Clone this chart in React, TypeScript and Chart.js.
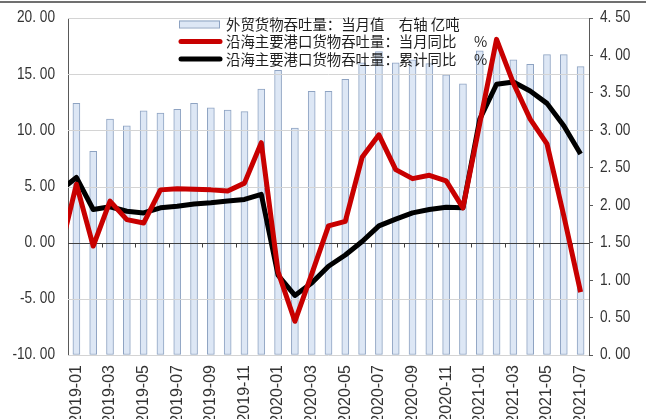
import { useEffect, useRef } from "react";
import { Chart, registerables } from "chart.js";

Chart.register(...registerables);

// Months on the category axis; the first one sits just left of the plot so the
// lines run in from the edge.
const months = [
  "2018-12",
  "2019-01", "2019-02", "2019-03", "2019-04", "2019-05", "2019-06",
  "2019-07", "2019-08", "2019-09", "2019-10", "2019-11", "2019-12",
  "2020-01", "2020-02", "2020-03", "2020-04", "2020-05", "2020-06",
  "2020-07", "2020-08", "2020-09", "2020-10", "2020-11", "2020-12",
  "2021-01", "2021-02", "2021-03", "2021-04", "2021-05", "2021-06",
  "2021-07",
];

// 外贸货物吞吐量:当月值 (亿吨, right axis)
const foreignTradeVolume = [
  null,
  3.36, 2.72, 3.15, 3.06, 3.26, 3.23,
  3.28, 3.36, 3.30, 3.27, 3.25, 3.55,
  3.80, 3.03, 3.52, 3.52, 3.68, 3.90,
  4.05, 3.90, 3.94, 3.89, 3.74, 3.62,
  4.06, 4.12, 3.94, 3.88, 4.01, 4.01,
  3.85,
];

// 沿海主要港口货物吞吐量:当月同比 (%, left axis)
const monthlyYoY = [
  -1.0,
  5.2, -0.3, 3.7, 2.05, 1.75, 4.7,
  4.8, 4.75, 4.7, 4.6, 5.3, 8.9,
  -2.6, -7.0, -2.8, 1.5, 1.9, 7.6,
  9.6, 6.5, 5.7, 6.0, 5.5, 3.1,
  10.6, 18.1, 14.2, 11.0, 8.8, 2.4,
  -4.4,
];

// 沿海主要港口货物吞吐量:累计同比 (%, left axis)
const cumulativeYoY = [
  4.6,
  5.8, 2.95, 3.2, 2.8, 2.65, 3.1,
  3.25, 3.45, 3.55, 3.7, 3.85, 4.3,
  -2.9, -4.7, -3.6, -2.1, -1.1, 0.1,
  1.5, 2.1, 2.65, 2.95, 3.15, 3.1,
  11.0, 14.1, 14.3, 13.5, 12.4, 10.4,
  7.9,
];

const leftTicks = [-10, -5, 0, 5, 10, 15, 20];
const rightTicks = [0, 0.5, 1, 1.5, 2, 2.5, 3, 3.5, 4, 4.5];

const legendLabels = [
  "外贸货物吞吐量：当月值　右轴 亿吨",
  "沿海主要港口货物吞吐量：当月同比　 %",
  "沿海主要港口货物吞吐量：累计同比　 %",
];

const BAR_FILL = "#dde7f5";
const BAR_EDGE = "#8ea3c2";
const RED = "#c80000";
const BLACK = "#000000";
const AXIS = "#595959";
const GRID = "#d4d4d4";
const TEXT = "#333333";

const fmt = (v: number) => v.toFixed(2).replace(".", ". ");

function squeezedText(
  ctx: CanvasRenderingContext2D,
  text: string,
  x: number,
  y: number,
  sx: number
) {
  ctx.save();
  ctx.translate(x, y);
  ctx.scale(sx, 1);
  ctx.fillText(text, 0, 0);
  ctx.restore();
}

// Horizontal grid, zero line and its month marks: painted over the bars,
// under the two lines.
const gridOverBars = {
  id: "gridOverBars",
  afterDatasetDraw(chart: Chart, args: any) {
    if (args.index !== 2) return;
    const { ctx, chartArea } = chart;
    const xs = chart.scales.x;
    const yl = chart.scales.y;
    ctx.save();
    ctx.lineWidth = 1;
    for (const v of leftTicks) {
      if (v === 0) continue;
      const py = Math.round(yl.getPixelForValue(v)) + 0.5;
      ctx.strokeStyle = GRID;
      ctx.beginPath();
      ctx.moveTo(chartArea.left, py);
      ctx.lineTo(chartArea.right, py);
      ctx.stroke();
    }
    const zy = Math.round(yl.getPixelForValue(0)) + 0.5;
    ctx.strokeStyle = "#404040";
    ctx.beginPath();
    ctx.moveTo(chartArea.left, zy);
    ctx.lineTo(chartArea.right, zy);
    ctx.stroke();
    for (let i = 2; i < months.length - 1; i += 2) {
      const bx =
        Math.round((xs.getPixelForValue(i) + xs.getPixelForValue(i + 1)) / 2) + 0.5;
      ctx.beginPath();
      ctx.moveTo(bx, zy);
      ctx.lineTo(bx, zy + 4);
      ctx.stroke();
    }
    ctx.restore();
  },
};

// Axis labels and the legend block.
const decorations = {
  id: "decorations",
  afterDraw(chart: Chart) {
    const { ctx, chartArea } = chart;
    const xs = chart.scales.x;
    const yl = chart.scales.y;
    const yr = chart.scales.y1;
    ctx.save();

    // frame line along the top edge
    ctx.fillStyle = "#707070";
    ctx.fillRect(0, 1, chart.width, 2);

    // y axis labels
    ctx.fillStyle = TEXT;
    ctx.font = "16px 'Liberation Sans', Arial, sans-serif";
    ctx.textBaseline = "middle";
    ctx.textAlign = "right";
    for (const v of leftTicks) {
      squeezedText(ctx, fmt(v), chartArea.left - 13, yl.getPixelForValue(v), 0.855);
    }
    ctx.textAlign = "left";
    for (const v of rightTicks) {
      squeezedText(ctx, fmt(v), chartArea.right + 11, yr.getPixelForValue(v), 0.855);
    }

    // month labels, rotated, every second month
    ctx.font = "16px 'Liberation Sans', Arial, sans-serif";
    ctx.textAlign = "right";
    ctx.textBaseline = "middle";
    for (let i = 1; i < months.length; i += 2) {
      ctx.save();
      ctx.translate(xs.getPixelForValue(i), chartArea.bottom + 10);
      ctx.rotate(-Math.PI / 2);
      ctx.fillText(months[i], 0, 0);
      ctx.restore();
    }

    // legend
    const lx0 = 179;
    const lx1 = 220;
    const rows = [24, 41.5, 59];
    ctx.fillStyle = BAR_FILL;
    ctx.fillRect(lx0, rows[0] - 3.5, lx1 - lx0, 7);
    ctx.lineWidth = 1;
    ctx.strokeStyle = BAR_EDGE;
    ctx.strokeRect(lx0 + 0.5, rows[0] - 3.5 + 0.5, lx1 - lx0 - 1, 7);
    ctx.lineCap = "round";
    ctx.lineWidth = 5;
    ctx.strokeStyle = RED;
    ctx.beginPath();
    ctx.moveTo(lx0 + 2, rows[1]);
    ctx.lineTo(lx1, rows[1]);
    ctx.stroke();
    ctx.strokeStyle = BLACK;
    ctx.beginPath();
    ctx.moveTo(lx0 + 2, rows[2]);
    ctx.lineTo(lx1, rows[2]);
    ctx.stroke();

    ctx.fillStyle = "#1e1e1e";
    ctx.font = "15px 'Noto Sans CJK SC', sans-serif";
    ctx.textAlign = "left";
    ctx.textBaseline = "middle";
    legendLabels.forEach((t, k) => squeezedText(ctx, t, 226, rows[k], 0.96));

    ctx.restore();
  },
};

export default function App() {
  const canvasRef = useRef<HTMLCanvasElement | null>(null);

  useEffect(() => {
    const canvas = canvasRef.current;
    if (!canvas) return;
    const chart = new Chart(canvas, {
      type: "bar",
      data: {
        labels: months,
        datasets: [
          {
            type: "line",
            label: legendLabels[1],
            data: monthlyYoY,
            yAxisID: "y",
            borderColor: RED,
            borderWidth: 5,
            borderJoinStyle: "round",
            pointRadius: 0,
            tension: 0,
            order: 1,
          },
          {
            type: "line",
            label: legendLabels[2],
            data: cumulativeYoY,
            yAxisID: "y",
            borderColor: BLACK,
            borderWidth: 5,
            borderJoinStyle: "round",
            pointRadius: 0,
            tension: 0,
            order: 2,
          },
          {
            type: "bar",
            label: legendLabels[0],
            data: foreignTradeVolume,
            yAxisID: "y1",
            backgroundColor: BAR_FILL,
            borderColor: BAR_EDGE,
            borderWidth: 1,
            borderSkipped: false,
            barThickness: 7,
            order: 3,
          },
        ],
      },
      options: {
        responsive: false,
        animation: false,
        devicePixelRatio: 1,
        layout: { padding: { top: 18, left: 0, right: 0, bottom: 0 } },
        plugins: {
          legend: { display: false },
          tooltip: { enabled: false },
        },
        scales: {
          x: {
            type: "category",
            min: "2019-01",
            offset: true,
            grid: { display: false },
            border: { display: false },
            ticks: { display: false },
            afterFit: (s: any) => {
              s.height = 64;
            },
          },
          y: {
            position: "left",
            min: -10,
            max: 20,
            ticks: { display: false, stepSize: 5 },
            grid: { drawOnChartArea: false, drawTicks: false },
            border: { display: true, color: AXIS, width: 1 },
            afterFit: (s: any) => {
              s.width = 68;
            },
          },
          y1: {
            position: "right",
            min: 0,
            max: 4.5,
            ticks: { display: false, stepSize: 0.5 },
            grid: {
              drawOnChartArea: false,
              drawTicks: true,
              tickLength: 4,
              color: AXIS,
            },
            border: { display: true, color: AXIS, width: 1 },
            afterFit: (s: any) => {
              s.width = 57;
            },
          },
        },
      },
      plugins: [gridOverBars, decorations],
    });
    return () => chart.destroy();
  }, []);

  return (
    <div
      style={{
        position: "absolute",
        left: 0,
        top: 0,
        width: 646,
        height: 419,
        overflow: "hidden",
        background: "#ffffff",
      }}
    >
      <canvas ref={canvasRef} width={646} height={419} style={{ display: "block" }} />
    </div>
  );
}
